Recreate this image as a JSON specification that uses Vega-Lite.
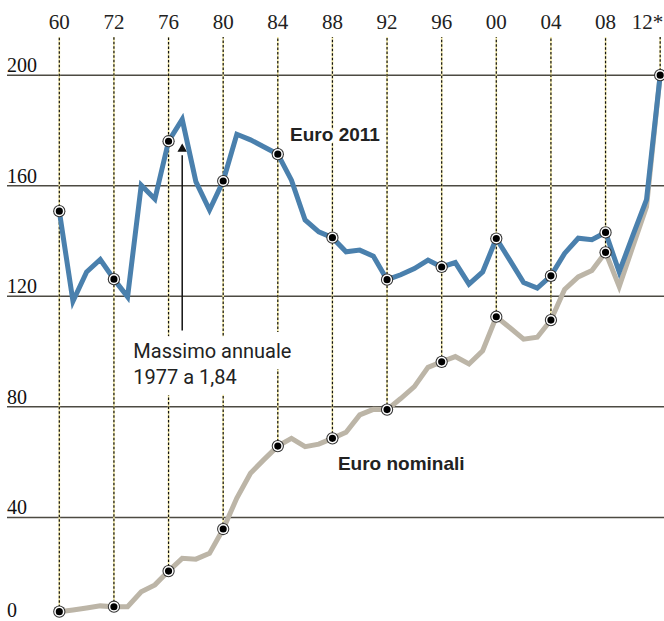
{
  "$schema": "https://vega.github.io/schema/vega-lite/v6.json",
  "width": 657,
  "height": 584,
  "autosize": {"type": "none"},
  "padding": {"left": 7, "top": 37, "right": 0, "bottom": 0},
  "background": "white",
  "config": {"view": {"stroke": null}},
  "datasets": {
    "series": [
      {"i": 0, "real": 150.8, "nominal": 5.9},
      {"i": 1, "real": 118.2, "nominal": 6.5},
      {"i": 2, "real": 128.8, "nominal": 7.2},
      {"i": 3, "real": 133.3, "nominal": 8.0},
      {"i": 4, "real": 126.2, "nominal": 7.7},
      {"i": 5, "real": 119.8, "nominal": 7.7},
      {"i": 6, "real": 160.2, "nominal": 13.1},
      {"i": 7, "real": 155.2, "nominal": 15.6},
      {"i": 8, "real": 176.1, "nominal": 20.6},
      {"i": 9, "real": 184.0, "nominal": 25.2},
      {"i": 10, "real": 161.5, "nominal": 24.9},
      {"i": 11, "real": 151.2, "nominal": 27.0},
      {"i": 12, "real": 161.7, "nominal": 35.8},
      {"i": 13, "real": 178.6, "nominal": 47.0},
      {"i": 14, "real": 176.6, "nominal": 56.0},
      {"i": 15, "real": 174.0, "nominal": 61.0},
      {"i": 16, "real": 171.4, "nominal": 65.8},
      {"i": 17, "real": 162.0, "nominal": 68.6},
      {"i": 18, "real": 147.6, "nominal": 65.6},
      {"i": 19, "real": 143.3, "nominal": 66.5},
      {"i": 20, "real": 141.2, "nominal": 68.6},
      {"i": 21, "real": 136.1, "nominal": 70.8},
      {"i": 22, "real": 136.7, "nominal": 77.1},
      {"i": 23, "real": 134.5, "nominal": 79.1},
      {"i": 24, "real": 126.0, "nominal": 79.0},
      {"i": 25, "real": 127.8, "nominal": 83.0},
      {"i": 26, "real": 130.0, "nominal": 87.3},
      {"i": 27, "real": 133.1, "nominal": 94.3},
      {"i": 28, "real": 130.6, "nominal": 96.3},
      {"i": 29, "real": 132.2, "nominal": 98.2},
      {"i": 30, "real": 124.4, "nominal": 95.5},
      {"i": 31, "real": 128.8, "nominal": 100.3},
      {"i": 32, "real": 140.9, "nominal": 112.6},
      {"i": 33, "real": 133.0, "nominal": 108.6},
      {"i": 34, "real": 125.0, "nominal": 104.5},
      {"i": 35, "real": 123.0, "nominal": 105.2},
      {"i": 36, "real": 127.4, "nominal": 111.4},
      {"i": 37, "real": 135.5, "nominal": 122.5},
      {"i": 38, "real": 141.0, "nominal": 127.0},
      {"i": 39, "real": 140.5, "nominal": 129.3},
      {"i": 40, "real": 143.1, "nominal": 135.9},
      {"i": 41, "real": 128.8, "nominal": 123.5},
      {"i": 42, "real": 142.0, "nominal": 138.0},
      {"i": 43, "real": 155.0, "nominal": 152.4},
      {"i": 44, "real": 200.0, "nominal": 200.0}
    ],
    "grid": [{"v": 40}, {"v": 80}, {"v": 120}, {"v": 160}, {"v": 200}],
    "ticks": [
      {"i": 0, "lab": "60"}, {"i": 4, "lab": "72"}, {"i": 8, "lab": "76"}, {"i": 12, "lab": "80"},
      {"i": 16, "lab": "84"}, {"i": 20, "lab": "88"}, {"i": 24, "lab": "92"}, {"i": 28, "lab": "96"},
      {"i": 32, "lab": "00"}, {"i": 36, "lab": "04"}, {"i": 40, "lab": "08"}
    ]
  },
  "layer": [
    {
      "data": {"name": "grid"},
      "mark": {"type": "rule", "color": "#4d4a42", "strokeWidth": 1.5},
      "encoding": {
        "y": {"field": "v", "type": "quantitative", "scale": {"domain": [2.53, 213.8], "nice": false, "zero": false}, "axis": null}
      }
    },
    {
      "data": {"name": "grid"},
      "mark": {"type": "text", "font": "Liberation Serif", "fontSize": 20, "align": "left", "baseline": "alphabetic", "dy": -3, "color": "#111"},
      "encoding": {
        "y": {"field": "v", "type": "quantitative", "axis": null},
        "x": {"datum": -3.83, "type": "quantitative", "axis": null},
        "text": {"field": "v"}
      }
    },
    {
      "data": {"values": [{"v": 0}]},
      "mark": {"type": "text", "font": "Liberation Serif", "fontSize": 20, "align": "left", "baseline": "alphabetic", "dy": -11, "color": "#111"},
      "encoding": {
        "y": {"field": "v", "type": "quantitative", "axis": null},
        "x": {"datum": -3.83, "type": "quantitative", "axis": null},
        "text": {"field": "v"}
      }
    },
    {
      "data": {"name": "ticks"},
      "mark": {"type": "text", "font": "Liberation Sans Narrow", "fontSize": 21, "align": "center", "baseline": "alphabetic", "dy": -8, "color": "#222"},
      "encoding": {
        "x": {"field": "i", "type": "quantitative", "scale": {"domain": [-3.83, 44.28], "nice": false, "zero": false}, "axis": null},
        "y": {"datum": 213.8, "type": "quantitative", "axis": null},
        "text": {"field": "lab"}
      }
    },
    {
      "data": {"values": [{"i": 44, "lab": "12*"}]},
      "mark": {"type": "text", "font": "Liberation Sans Narrow", "fontSize": 21, "align": "right", "baseline": "alphabetic", "dy": -8, "dx": 3, "color": "#222"},
      "encoding": {
        "x": {"field": "i", "type": "quantitative", "axis": null},
        "y": {"datum": 213.8, "type": "quantitative", "axis": null},
        "text": {"field": "lab"}
      }
    },
    {
      "data": {"name": "series"},
      "transform": [{"filter": {"field": "i", "oneOf": [0, 4, 8, 12, 16, 20, 24, 28, 32, 36, 40, 44]}}],
      "mark": {"type": "rule", "color": "#f1e7a0", "strokeWidth": 1.6},
      "encoding": {
        "x": {"field": "i", "type": "quantitative", "axis": null},
        "y": {"field": "nominal", "type": "quantitative", "axis": null},
        "y2": {"datum": 213.8}
      }
    },
    {
      "data": {"name": "series"},
      "transform": [{"filter": {"field": "i", "oneOf": [0, 4, 8, 12, 16, 20, 24, 28, 32, 36, 40, 44]}}],
      "mark": {"type": "rule", "color": "#111", "strokeWidth": 1.2, "strokeDash": [2.5, 2]},
      "encoding": {
        "x": {"field": "i", "type": "quantitative", "axis": null},
        "y": {"field": "nominal", "type": "quantitative", "axis": null},
        "y2": {"datum": 213.8}
      }
    },
    {
      "data": {"values": [{"t": "a"}]},
      "mark": {"type": "text", "text": ["Massimo annuale", "1977 a 1,84"], "font": "Roboto", "fontSize": 20, "lineHeight": 26, "align": "left", "baseline": "alphabetic", "color": "white", "stroke": "white", "strokeWidth": 22, "strokeJoin": "round"},
      "encoding": {
        "x": {"datum": 5.42, "type": "quantitative", "axis": null},
        "y": {"datum": 97.6, "type": "quantitative", "axis": null}
      }
    },
    {
      "data": {"values": [{"t": "a"}]},
      "mark": {"type": "text", "text": ["Massimo annuale", "1977 a 1,84"], "font": "Roboto", "fontSize": 20, "lineHeight": 26, "align": "left", "baseline": "alphabetic", "color": "#222"},
      "encoding": {
        "x": {"datum": 5.42, "type": "quantitative", "axis": null},
        "y": {"datum": 97.6, "type": "quantitative", "axis": null}
      }
    },
    {
      "data": {"values": [{"t": "a"}]},
      "mark": {"type": "rule", "color": "#111", "strokeWidth": 1.5},
      "encoding": {
        "x": {"datum": 9, "type": "quantitative", "axis": null},
        "y": {"datum": 107.6, "type": "quantitative", "axis": null},
        "y2": {"datum": 171}
      }
    },
    {
      "data": {"values": [{"t": "a"}]},
      "mark": {"type": "point", "shape": "triangle-up", "filled": true, "color": "#111", "size": 90, "opacity": 1},
      "encoding": {
        "x": {"datum": 9, "type": "quantitative", "axis": null},
        "y": {"datum": 173.8, "type": "quantitative", "axis": null}
      }
    },
    {
      "data": {"name": "series"},
      "mark": {"type": "line", "color": "#bcb5a7", "strokeWidth": 5, "strokeJoin": "miter"},
      "encoding": {
        "x": {"field": "i", "type": "quantitative", "axis": null},
        "y": {"field": "nominal", "type": "quantitative", "axis": null}
      }
    },
    {
      "data": {"name": "series"},
      "mark": {"type": "line", "color": "#4a80ad", "strokeWidth": 5, "strokeJoin": "miter"},
      "encoding": {
        "x": {"field": "i", "type": "quantitative", "axis": null},
        "y": {"field": "real", "type": "quantitative", "axis": null}
      }
    },
    {
      "data": {"name": "series"},
      "transform": [{"filter": {"field": "i", "oneOf": [0, 4, 8, 12, 16, 20, 24, 28, 32, 36, 40]}}],
      "mark": {"type": "circle", "color": "#333", "size": 150, "opacity": 1},
      "encoding": {
        "x": {"field": "i", "type": "quantitative", "axis": null},
        "y": {"field": "nominal", "type": "quantitative", "axis": null}
      }
    },
    {
      "data": {"name": "series"},
      "transform": [{"filter": {"field": "i", "oneOf": [0, 4, 8, 12, 16, 20, 24, 28, 32, 36, 40]}}],
      "mark": {"type": "circle", "fill": "#000", "stroke": "white", "strokeWidth": 1.5, "size": 75, "opacity": 1},
      "encoding": {
        "x": {"field": "i", "type": "quantitative", "axis": null},
        "y": {"field": "nominal", "type": "quantitative", "axis": null}
      }
    },
    {
      "data": {"name": "series"},
      "transform": [{"filter": {"field": "i", "oneOf": [0, 4, 8, 12, 16, 20, 24, 28, 32, 36, 40, 44]}}],
      "mark": {"type": "circle", "color": "#333", "size": 150, "opacity": 1},
      "encoding": {
        "x": {"field": "i", "type": "quantitative", "axis": null},
        "y": {"field": "real", "type": "quantitative", "axis": null}
      }
    },
    {
      "data": {"name": "series"},
      "transform": [{"filter": {"field": "i", "oneOf": [0, 4, 8, 12, 16, 20, 24, 28, 32, 36, 40, 44]}}],
      "mark": {"type": "circle", "fill": "#000", "stroke": "white", "strokeWidth": 1.5, "size": 75, "opacity": 1},
      "encoding": {
        "x": {"field": "i", "type": "quantitative", "axis": null},
        "y": {"field": "real", "type": "quantitative", "axis": null}
      }
    },
    {
      "data": {"values": [{"label": "Euro 2011", "px": 16.9, "py": 176.2}, {"label": "Euro nominali", "px": 20.4, "py": 57.2}]},
      "mark": {"type": "text", "font": "Liberation Sans", "fontWeight": "bold", "fontSize": 19, "align": "left", "baseline": "alphabetic", "color": "white", "stroke": "white", "strokeWidth": 6, "strokeJoin": "round"},
      "encoding": {
        "x": {"field": "px", "type": "quantitative", "axis": null},
        "y": {"field": "py", "type": "quantitative", "axis": null},
        "text": {"field": "label"}
      }
    },
    {
      "data": {"values": [{"label": "Euro 2011", "px": 16.9, "py": 176.2}, {"label": "Euro nominali", "px": 20.4, "py": 57.2}]},
      "mark": {"type": "text", "font": "Liberation Sans", "fontWeight": "bold", "fontSize": 19, "align": "left", "baseline": "alphabetic", "color": "#222"},
      "encoding": {
        "x": {"field": "px", "type": "quantitative", "axis": null},
        "y": {"field": "py", "type": "quantitative", "axis": null},
        "text": {"field": "label"}
      }
    }
  ]
}
